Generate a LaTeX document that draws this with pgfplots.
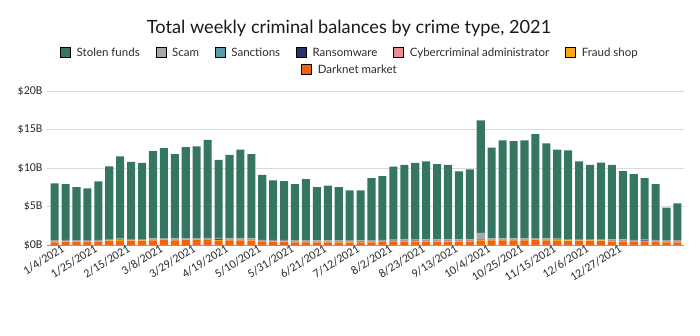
\documentclass[border=0pt]{standalone}
\usepackage{pgfplots}
\pgfplotsset{compat=1.18}
\usepackage{pgfplotstable}
\usepackage{fontspec}
\setmainfont{Lato}
\newfontfamily\tickfont{Carlito}
\definecolor{cStolen}{HTML}{357663}
\definecolor{cScam}{HTML}{A3A8AF}
\definecolor{cSanc}{HTML}{5B9AA8}
\definecolor{cRansom}{HTML}{27336B}
\definecolor{cCyber}{HTML}{EE8A92}
\definecolor{cFraud}{HTML}{F6A91B}
\definecolor{cDark}{HTML}{F2620F}
\definecolor{cText}{HTML}{2B2B2B}

\pgfplotstableread{
idx stolen scam sanc ransom cyber fraud dark
0 7.38 0.10 0.02 0.02 0.03 0.10 0.35
1 7.25 0.10 0.02 0.02 0.03 0.10 0.38
2 6.87 0.10 0.02 0.02 0.03 0.10 0.36
3 6.71 0.10 0.02 0.02 0.03 0.10 0.37
4 7.59 0.10 0.02 0.02 0.03 0.10 0.40
5 9.43 0.10 0.02 0.02 0.03 0.10 0.50
6 10.68 0.10 0.02 0.02 0.03 0.10 0.55
7 10.03 0.10 0.02 0.02 0.03 0.10 0.50
8 9.88 0.10 0.02 0.02 0.03 0.10 0.50
9 11.33 0.10 0.02 0.02 0.03 0.10 0.60
10 11.68 0.10 0.02 0.02 0.03 0.10 0.62
11 10.93 0.10 0.02 0.02 0.03 0.10 0.60
12 11.81 0.10 0.02 0.02 0.03 0.10 0.62
13 11.91 0.10 0.02 0.02 0.03 0.10 0.62
14 12.73 0.10 0.02 0.02 0.03 0.10 0.65
15 10.14 0.10 0.02 0.13 0.03 0.10 0.55
16 10.83 0.10 0.02 0.02 0.03 0.10 0.60
17 11.53 0.10 0.02 0.02 0.03 0.10 0.60
18 10.95 0.10 0.02 0.02 0.03 0.10 0.58
19 8.43 0.10 0.02 0.02 0.03 0.10 0.40
20 7.75 0.10 0.02 0.02 0.03 0.10 0.38
21 7.65 0.10 0.02 0.02 0.03 0.10 0.38
22 7.28 0.10 0.02 0.02 0.03 0.10 0.35
23 7.93 0.10 0.02 0.02 0.03 0.10 0.35
24 6.90 0.10 0.02 0.02 0.03 0.10 0.33
25 7.10 0.10 0.02 0.02 0.03 0.10 0.33
26 6.91 0.10 0.02 0.02 0.03 0.10 0.32
27 6.53 0.10 0.02 0.02 0.03 0.10 0.30
28 6.48 0.10 0.02 0.06 0.03 0.10 0.30
29 8.08 0.10 0.02 0.02 0.03 0.10 0.35
30 8.29 0.10 0.02 0.02 0.03 0.10 0.40
31 9.48 0.10 0.02 0.02 0.03 0.10 0.42
32 9.68 0.10 0.02 0.02 0.03 0.10 0.45
33 9.89 0.10 0.02 0.06 0.03 0.10 0.45
34 10.15 0.10 0.02 0.02 0.03 0.10 0.45
35 9.78 0.10 0.02 0.02 0.03 0.10 0.45
36 9.68 0.10 0.02 0.02 0.03 0.10 0.45
37 8.85 0.10 0.02 0.02 0.03 0.10 0.45
38 9.11 0.10 0.02 0.02 0.03 0.10 0.45
39 14.63 0.85 0.02 0.02 0.03 0.10 0.55
40 11.78 0.10 0.02 0.02 0.03 0.10 0.60
41 12.73 0.10 0.02 0.02 0.03 0.10 0.60
42 12.63 0.10 0.02 0.02 0.03 0.10 0.60
43 12.73 0.10 0.02 0.02 0.03 0.10 0.60
44 13.51 0.10 0.02 0.02 0.03 0.10 0.62
45 12.33 0.10 0.02 0.02 0.03 0.10 0.60
46 11.58 0.10 0.02 0.02 0.03 0.10 0.55
47 11.53 0.10 0.02 0.02 0.03 0.10 0.50
48 10.08 0.10 0.02 0.02 0.03 0.10 0.50
49 9.63 0.10 0.02 0.02 0.03 0.10 0.50
50 9.93 0.10 0.02 0.02 0.03 0.10 0.50
51 9.68 0.10 0.02 0.02 0.03 0.10 0.45
52 8.88 0.10 0.02 0.02 0.03 0.10 0.45
53 8.53 0.10 0.02 0.02 0.03 0.10 0.40
54 7.99 0.10 0.02 0.06 0.03 0.10 0.40
55 7.23 0.10 0.02 0.02 0.03 0.10 0.40
56 4.23 0.10 0.02 0.02 0.03 0.10 0.35
57 4.78 0.10 0.02 0.02 0.03 0.10 0.35
}\crimedata

\begin{document}
\begin{tikzpicture}
\path[use as bounding box] (0pt,0pt) rectangle (700pt,336pt);
\node[anchor=center, text=black!90, font=\fontsize{18.2}{21}\selectfont] at (349pt,308pt) {Total weekly criminal balances by crime type, 2021};
\begin{axis}[
  at={(47pt,91pt)}, anchor=south west,
  scale only axis, width=637pt, height=154pt,
  ybar stacked, bar width=0.74,
  xmin=-0.7, xmax=57.6, ymin=0, ymax=20,
  axis x line*=bottom, axis y line*=left,
  y axis line style={draw=none},
  x axis line style={draw=black!40, line width=0.8pt},
  tick style={draw=none},
  ymajorgrids, major grid style={draw=black!15, line width=0.7pt},
  ytick={0,5,10,15,20},
  yticklabels={\$0B,\$5B,\$10B,\$15B,\$20B},
  yticklabel style={font=\tickfont\fontsize{12}{14}\selectfont, text=cText, xshift=-1pt},
  xtick={0,3,...,51},
  xticklabels={1/4/2021,1/25/2021,2/15/2021,3/8/2021,3/29/2021,4/19/2021,5/10/2021,5/31/2021,6/21/2021,7/12/2021,8/2/2021,8/23/2021,9/13/2021,10/4/2021,10/25/2021,11/15/2021,12/6/2021,12/27/2021},
  xticklabel style={font=\tickfont\fontsize{12}{14}\selectfont, text=cText, rotate=32, anchor=north east, inner sep=1pt, xshift=7pt, yshift=-1pt},
  legend columns=6,
  legend image code/.code={\fill[#1] (0pt,-4.5pt) rectangle (10pt,5.5pt);},
  legend style={draw=none, fill=none, at={(0.4757,1.247)}, anchor=center,
    font=\fontsize{11.5}{13}\selectfont, text=cText,
    /tikz/every even column/.append style={column sep=14pt},
    /tikz/every odd column/.append style={column sep=4pt}},
]
\addplot[fill=cDark, draw=none, forget plot] table[x=idx, y=dark] {\crimedata};
\addplot[fill=cFraud, draw=none, forget plot] table[x=idx, y=fraud] {\crimedata};
\addplot[fill=cCyber, draw=none, forget plot] table[x=idx, y=cyber] {\crimedata};
\addplot[fill=cRansom, draw=none, forget plot] table[x=idx, y=ransom] {\crimedata};
\addplot[fill=cSanc, draw=none, forget plot] table[x=idx, y=sanc] {\crimedata};
\addplot[fill=cScam, draw=none, forget plot] table[x=idx, y=scam] {\crimedata};
\addplot[fill=cStolen, draw=none, forget plot] table[x=idx, y=stolen] {\crimedata};
\addlegendimage{fill=cStolen}\addlegendentry{Stolen funds}
\addlegendimage{fill=cScam}\addlegendentry{Scam}
\addlegendimage{fill=cSanc}\addlegendentry{Sanctions}
\addlegendimage{fill=cRansom}\addlegendentry{Ransomware}
\addlegendimage{fill=cCyber}\addlegendentry{Cybercriminal administrator}
\addlegendimage{fill=cFraud}\addlegendentry{Fraud shop}
\end{axis}
\begin{axis}[
  at={(47pt,91pt)}, anchor=south west,
  scale only axis, width=637pt, height=154pt,
  hide axis, xmin=0, xmax=1, ymin=0, ymax=1,
  legend image code/.code={\fill[#1] (0pt,-4.5pt) rectangle (10pt,5.5pt);},
  legend style={draw=none, fill=none, at={(0.4757,1.136)}, anchor=center,
    font=\fontsize{11.5}{13}\selectfont, text=cText,
    /tikz/every odd column/.append style={column sep=4pt}},
]
\addlegendimage{fill=cDark}\addlegendentry{Darknet market}
\end{axis}
\end{tikzpicture}
\end{document}
